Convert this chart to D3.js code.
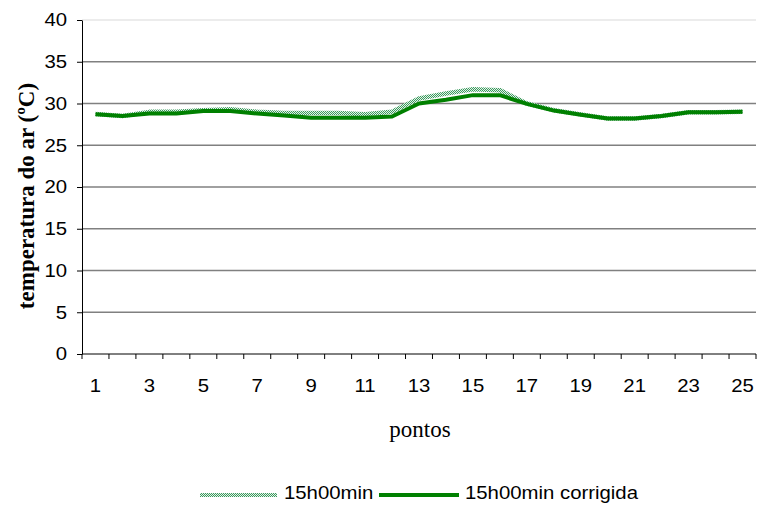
<!DOCTYPE html>
<html>
<head>
<meta charset="utf-8">
<script src="https://cdn.jsdelivr.net/npm/d3@7"></script>
<style>
  html, body { margin: 0; padding: 0; background: #fff; }
  svg { display: block; }
  .tick-text { font-family: "Liberation Sans", Arial, sans-serif; font-size: 18.5px; fill: #000; }
  .serif-title { font-family: "Liberation Serif", "Times New Roman", serif; font-size: 23px; fill: #000; }
</style>
</head>
<body>
<div id="chart"></div>
<script>
const pontos = d3.range(1, 26);
const xTickLabels = [1, 3, 5, 7, 9, 11, 13, 15, 17, 19, 21, 23, 25];
const yTickValues = [0, 5, 10, 15, 20, 25, 30, 35, 40];
const temp15h = [28.75, 28.5, 29.0, 29.0, 29.2, 29.3, 29.0, 28.85, 28.85, 28.85, 28.7, 29.0, 30.6, 31.2, 31.7, 31.6, 30.0, 29.2, 28.7, 28.2, 28.2, 28.5, 28.95, 28.95, 29.0];
const temp15hCorrigida = [28.7, 28.5, 28.8, 28.8, 29.1, 29.1, 28.8, 28.55, 28.3, 28.3, 28.3, 28.45, 30.0, 30.45, 31.0, 31.0, 29.95, 29.15, 28.65, 28.2, 28.2, 28.5, 28.95, 28.95, 29.0];
const seriesNames = ["15h00min", "15h00min corrigida"];

const WIDTH = 759;
const HEIGHT = 511;
const PLOT = { left: 82, right: 756, top: 20, bottom: 354 };
const STRETCH = 1.1; // the sans labels in the reference look a bit widened

const svg = d3.select("#chart").append("svg")
  .attr("width", WIDTH)
  .attr("height", HEIGHT);

const defs = svg.append("defs");
const dots = defs.append("pattern")
  .attr("id", "dots")
  .attr("patternUnits", "userSpaceOnUse")
  .attr("width", 2)
  .attr("height", 2);
dots.append("rect").attr("width", 2).attr("height", 2).attr("fill", "#e4f2e8");
dots.append("rect").attr("x", 0).attr("y", 0).attr("width", 1).attr("height", 1).attr("fill", "#3c9a5f");
dots.append("rect").attr("x", 1).attr("y", 1).attr("width", 1).attr("height", 1).attr("fill", "#3c9a5f");

const x = d3.scaleBand().domain(pontos).range([PLOT.left, PLOT.right]).padding(0);
const y = d3.scaleLinear().domain([0, 40]).range([PLOT.bottom, PLOT.top]);
const cx = (p) => x(p) + x.bandwidth() / 2;

// gridlines
svg.append("g")
  .selectAll("line")
  .data(yTickValues.filter((v) => v > 0))
  .enter()
  .append("line")
  .attr("x1", PLOT.left)
  .attr("x2", PLOT.right)
  .attr("y1", (v) => y(v))
  .attr("y2", (v) => y(v))
  .attr("stroke", (v) => (v === 40 ? "#e6e6e6" : "#808080"))
  .attr("stroke-width", 1.3);

// y axis
const yAxis = svg.append("g")
  .attr("transform", `translate(${PLOT.left},0)`)
  .call(d3.axisLeft(y).tickValues(yTickValues).tickSize(5).tickSizeOuter(0));
yAxis.attr("font-size", null).attr("font-family", null);
yAxis.select(".domain").attr("stroke", "#000");
yAxis.selectAll(".tick line").attr("stroke", "#000");
yAxis.selectAll(".tick text")
  .attr("class", "tick-text")
  .attr("x", -15 / STRETCH)
  .attr("transform", `scale(${STRETCH},1)`);

// x axis labels
const xAxis = svg.append("g")
  .attr("transform", `translate(0,${PLOT.bottom})`)
  .call(d3.axisBottom(x).tickValues(xTickLabels).tickSize(0).tickPadding(25));
xAxis.select(".domain").remove();
xAxis.attr("font-size", null).attr("font-family", null);
xAxis.selectAll(".tick text")
  .attr("class", "tick-text")
  .attr("transform", `scale(${STRETCH},1)`);

// x axis line and boundary ticks
const bounds = pontos.map((p) => x(p)).concat([x.range()[1]]);
svg.append("line")
  .attr("x1", PLOT.left)
  .attr("x2", PLOT.right)
  .attr("y1", PLOT.bottom)
  .attr("y2", PLOT.bottom)
  .attr("stroke", "#000");
svg.append("g")
  .selectAll("line")
  .data(bounds)
  .enter()
  .append("line")
  .attr("x1", (b) => b)
  .attr("x2", (b) => b)
  .attr("y1", PLOT.bottom)
  .attr("y2", PLOT.bottom + 5)
  .attr("stroke", "#000");

// series
const line = d3.line()
  .x((d, i) => cx(pontos[i]))
  .y((d) => y(d));

svg.append("path")
  .datum(temp15h)
  .attr("d", line)
  .attr("fill", "none")
  .attr("stroke", "url(#dots)")
  .attr("stroke-width", 4.5)
  .attr("stroke-linejoin", "round");

svg.append("path")
  .datum(temp15hCorrigida)
  .attr("d", line)
  .attr("fill", "none")
  .attr("stroke", "#008000")
  .attr("stroke-width", 4)
  .attr("stroke-linejoin", "round");

// axis titles
svg.append("text")
  .attr("class", "serif-title")
  .attr("font-weight", "bold")
  .attr("text-anchor", "middle")
  .attr("transform", "translate(34,196) rotate(-90)")
  .text("temperatura do ar (ºC)");

svg.append("text")
  .attr("class", "serif-title")
  .attr("text-anchor", "middle")
  .attr("x", 420)
  .attr("y", 437)
  .text("pontos");

// legend
const legend = svg.append("g");
legend.append("line")
  .attr("x1", 200).attr("x2", 277)
  .attr("y1", 495).attr("y2", 495)
  .attr("stroke", "url(#dots)")
  .attr("stroke-width", 4);
legend.append("text")
  .attr("class", "tick-text")
  .attr("transform", `translate(284,499) scale(${STRETCH},1)`)
  .text(seriesNames[0]);
legend.append("line")
  .attr("x1", 379).attr("x2", 459)
  .attr("y1", 495).attr("y2", 495)
  .attr("stroke", "#008000")
  .attr("stroke-width", 4);
legend.append("text")
  .attr("class", "tick-text")
  .attr("transform", `translate(465,499) scale(${STRETCH},1)`)
  .text(seriesNames[1]);
</script>
</body>
</html>
